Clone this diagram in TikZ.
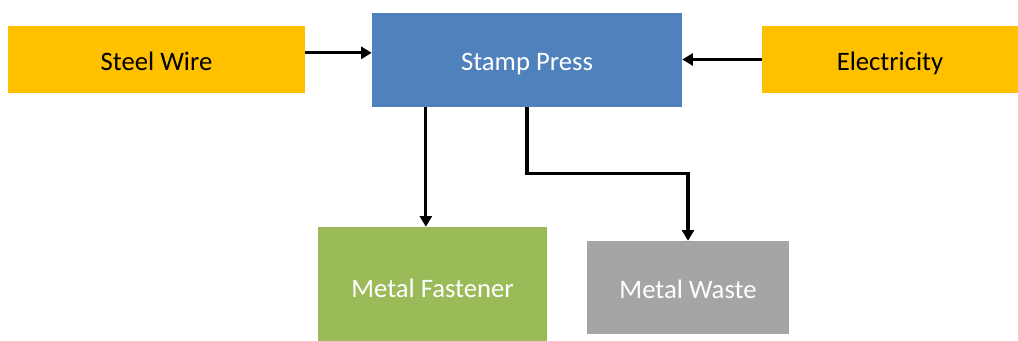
\documentclass[tikz,border=0pt]{standalone}
\usepackage{fontspec}
\setmainfont{Carlito}
\usepackage{tikz}
\usetikzlibrary{arrows.meta}

\definecolor{inputorange}{HTML}{FFC000}
\definecolor{pressblue}{HTML}{4F81BD}
\definecolor{productgreen}{HTML}{9BBB59}
\definecolor{wastegray}{HTML}{A5A5A5}

\begin{document}
\begin{tikzpicture}[
  x=0.75pt, y=-0.75pt,
  every node/.style={align=center,inner sep=0pt,text height=17pt,text depth=1pt,
                     font=\fontsize{20}{24}\selectfont},
  inputbox/.style={fill=inputorange,text=black,minimum height=50.25pt},
  pressbox/.style={fill=pressblue,text=white,minimum width=232.5pt,minimum height=70.5pt},
  productbox/.style={fill=productgreen,text=white,text height=21pt,
                     minimum width=171.75pt,minimum height=85.5pt},
  wastebox/.style={fill=wastegray,text=white,minimum width=151.5pt,minimum height=69.75pt},
  to/.style={-{Triangle[length=8pt,width=9pt]},line width=2.3pt}]
  \useasboundingbox (0,0) rectangle (1018,341);

% Position the nodes at their coordinates
  \node[inputbox,minimum width=222.75pt] (SteelWire)   at (156.5,59.5) {Steel Wire};
  \node[pressbox]                        (StampPress)  at (527,60)     {Stamp Press};
  \node[inputbox,minimum width=192pt]    (Electricity) at (890,59.5)   {Electricity};
  \node[productbox]                      (Fastener)    at (432.5,284)  {Metal Fastener};
  \node[wastebox]                        (MetalWaste)  at (688,287.5)  {Metal Waste};

  % Draw the arrows between the nodes
  \draw[to]     ([yshift=5pt]SteelWire.east)
            --  ([yshift=5pt]SteelWire.east -| StampPress.west);
  \draw[to]     (Electricity.west)
            --  (Electricity.west -| StampPress.east);
  \draw[to]     ([xshift=-5pt]Fastener.north |- StampPress.south)
            --  ([xshift=-5pt]Fastener.north);
  \draw[to]     (StampPress.south) -- ++(0,-49.5pt)
            -|  (MetalWaste.north);
\end{tikzpicture}
\end{document}
